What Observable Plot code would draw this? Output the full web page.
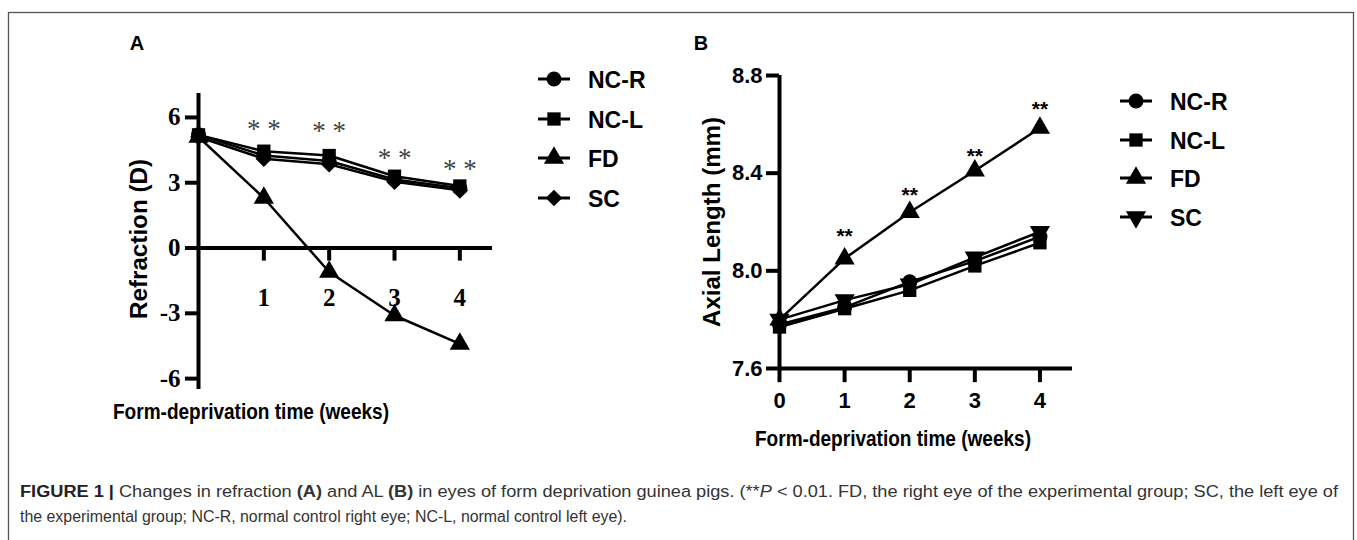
<!DOCTYPE html>
<html><head><meta charset="utf-8">
<script src="https://cdn.jsdelivr.net/npm/d3@7"></script>
<script src="https://cdn.jsdelivr.net/npm/@observablehq/plot@0.6"></script>
<style>
body{margin:0;background:#fff;}
#wrap{position:relative;width:1357px;height:540px;overflow:hidden;background:#fff;}
#wrap > svg{position:absolute;}
</style></head><body><div id="wrap"></div>
<script>
// ---- data ----
const weeks = [0, 1, 2, 3, 4];
const seriesNames = ["NC-R", "NC-L", "FD", "SC"];
// Panel A: refraction (D)
const refrNCR = [5.2, 4.25, 4.0, 3.15, 2.75];
const refrNCL = [5.2, 4.45, 4.25, 3.3, 2.85];
const refrFD  = [5.1, 2.3, -1.1, -3.1, -4.4];
const refrSC  = [5.1, 4.1, 3.85, 3.05, 2.65];
// Panel B: axial length (mm)
const alNCR = [7.78, 7.85, 7.955, 8.04, 8.14];
const alNCL = [7.77, 7.845, 7.92, 8.02, 8.115];
const alFD  = [7.80, 8.05, 8.24, 8.41, 8.585];
const alSC  = [7.80, 7.88, 7.945, 8.055, 8.16];
// significance marks
const starWeeks = [1, 2, 3, 4];
const refrStarY = [5.45, 5.35, 4.1, 3.6];
const alStarY = [8.14, 8.31, 8.47, 8.66];
// ticks
const refrYTicks = [-6, -3, 0, 3, 6];
const refrXTicks = [1, 2, 3, 4];
const alYTicks = [7.6, 8.0, 8.4, 8.8];
const alXTicks = [0, 1, 2, 3, 4];

const rows = (vals, name) => vals.map((v, i) => ({week: weeks[i], value: v, series: name}));
const dataA = [...rows(refrNCR, "NC-R"), ...rows(refrNCL, "NC-L"), ...rows(refrFD, "FD"), ...rows(refrSC, "SC")];
const dataB = [...rows(alNCR, "NC-R"), ...rows(alNCL, "NC-L"), ...rows(alFD, "FD"), ...rows(alSC, "SC")];

const wrap = document.getElementById("wrap");
const SANS = "Liberation Sans, Arial, sans-serif";
const SERIF = "Liberation Serif, Times New Roman, serif";
const R = 7.5;

// ---- background overlay (border, titles, legends, caption) ----
const bg = d3.create("svg").attr("width", 1357).attr("height", 540).style("left", "0px").style("top", "0px");
bg.append("rect").attr("x", 8.5).attr("y", 12.5).attr("width", 1345).attr("height", 700)
  .attr("fill", "none").attr("stroke", "#555").attr("stroke-width", 1.3);
bg.append("text").attr("x", 137).attr("y", 50).attr("text-anchor", "middle")
  .style("font", `bold 20px ${SANS}`).text("A");
bg.append("text").attr("x", 701).attr("y", 50).attr("text-anchor", "middle")
  .style("font", `bold 20px ${SANS}`).text("B");
bg.append("text").attr("transform", "translate(147,239) rotate(-90)").attr("text-anchor", "middle")
  .attr("textLength", 160).attr("lengthAdjust", "spacingAndGlyphs")
  .style("font", `bold 24px ${SANS}`).text("Refraction (D)");
bg.append("text").attr("transform", "translate(720,222) rotate(-90)").attr("text-anchor", "middle")
  .attr("textLength", 210).attr("lengthAdjust", "spacingAndGlyphs")
  .style("font", `bold 23px ${SANS}`).text("Axial Length (mm)");
bg.append("text").attr("x", 113).attr("y", 419).attr("textLength", 276).attr("lengthAdjust", "spacingAndGlyphs")
  .style("font", `bold 22px ${SANS}`).text("Form-deprivation time (weeks)");
bg.append("text").attr("x", 755).attr("y", 446).attr("textLength", 276).attr("lengthAdjust", "spacingAndGlyphs")
  .style("font", `bold 22px ${SANS}`).text("Form-deprivation time (weeks)");

function legend(x0, ys, symbols, rotations) {
  seriesNames.forEach((name, i) => {
    const g = bg.append("g");
    g.append("line").attr("x1", x0).attr("x2", x0 + 32).attr("y1", ys[i]).attr("y2", ys[i])
      .attr("stroke", "#000").attr("stroke-width", 3);
    g.append("path").attr("d", d3.symbol(symbols[i], Math.PI * R * R)())
      .attr("transform", `translate(${x0 + 16},${ys[i]}) rotate(${rotations[i]})`).attr("fill", "#000");
    g.append("text").attr("x", x0 + 50).attr("y", ys[i] + 8.5).style("font", `bold 23px ${SANS}`).text(name);
  });
}
legend(538, [79, 119, 158, 198], [d3.symbolCircle, d3.symbolSquare, d3.symbolTriangle, d3.symbolDiamond2], [0, 0, 0, 0]);
legend(1120, [101, 140, 178, 217], [d3.symbolCircle, d3.symbolSquare, d3.symbolTriangle, d3.symbolTriangle], [0, 0, 0, 180]);

const cap1 = bg.append("text").attr("x", 20).attr("y", 497).attr("textLength", 1318).attr("lengthAdjust", "spacingAndGlyphs")
  .style("font", `16px ${SANS}`).attr("fill", "#333");
cap1.append("tspan").style("font-weight", "bold").attr("fill", "#222").text("FIGURE 1 | ");
cap1.append("tspan").text("Changes in refraction ");
cap1.append("tspan").style("font-weight", "bold").text("(A)");
cap1.append("tspan").text(" and AL ");
cap1.append("tspan").style("font-weight", "bold").text("(B)");
cap1.append("tspan").text(" in eyes of form deprivation guinea pigs. (**");
cap1.append("tspan").style("font-style", "italic").text("P");
cap1.append("tspan").text(" < 0.01. FD, the right eye of the experimental group; SC, the left eye of");
bg.append("text").attr("x", 20).attr("y", 522).attr("textLength", 607).attr("lengthAdjust", "spacingAndGlyphs")
  .style("font", `16px ${SANS}`).attr("fill", "#333")
  .text("the experimental group; NC-R, normal control right eye; NC-L, normal control left eye).");
wrap.appendChild(bg.node());

// ---- Panel A ----
const tickA = 0.2;   // y-axis tick length in x units
const tickAy = 0.6;  // x-axis tick length in y units
const plotA = Plot.plot({
  width: 500, height: 470,
  marginLeft: 198, marginRight: 8, marginTop: 93, marginBottom: 81,
  style: {background: "transparent", overflow: "visible"},
  x: {domain: [0, 4.5], axis: null},
  y: {domain: [-6.5, 7.1], axis: null},
  symbol: {domain: seriesNames, range: ["circle", "square", "triangle", "diamond2"]},
  marks: [
    Plot.ruleY([0], {x1: 0, x2: 4.5, stroke: "#000", strokeWidth: 4}),
    Plot.ruleX([0], {y1: -6.5, y2: 7.1, stroke: "#000", strokeWidth: 4}),
    Plot.ruleY(refrYTicks, {y: d => d, x1: -tickA, x2: 0, stroke: "#000", strokeWidth: 4}),
    Plot.ruleX(refrXTicks, {x: d => d, y1: 0, y2: -tickAy, stroke: "#000", strokeWidth: 4}),
    Plot.text(refrYTicks, {x: 0, y: d => d, text: d => String(d), dx: -18, textAnchor: "end",
      fontFamily: SERIF, fontWeight: "bold", fontSize: 25, fill: "#000"}),
    Plot.text(refrXTicks, {x: d => d, y: 0, text: d => String(d), dy: 50,
      fontFamily: SERIF, fontWeight: "bold", fontSize: 25, fill: "#000"}),
    Plot.line(dataA, {x: "week", y: "value", z: "series", stroke: "#000", strokeWidth: 2.5}),
    Plot.dot(dataA, {x: "week", y: "value", symbol: "series", r: R, fill: "#000", stroke: "none"}),
    Plot.text(starWeeks, {x: d => d, y: (d, i) => refrStarY[i], text: () => "* *",
      fontFamily: SERIF, fontSize: 27, fill: "#444"})
  ]
});
plotA.style.left = "0px"; plotA.style.top = "0px";
wrap.appendChild(plotA);

// ---- Panel B ----
const tickB = 0.2;
const tickBy = 0.058;
const plotB = Plot.plot({
  width: 480, height: 470,
  marginLeft: 179, marginRight: 8, marginTop: 75, marginBottom: 102,
  style: {background: "transparent", overflow: "visible"},
  x: {domain: [0, 4.5], axis: null},
  y: {domain: [7.6, 8.8], axis: null},
  symbol: {domain: seriesNames, range: ["circle", "square", "triangle", "triangle"]},
  marks: [
    Plot.ruleY([7.6], {x1: 0, x2: 4.5, stroke: "#000", strokeWidth: 4}),
    Plot.ruleX([0], {y1: 7.6, y2: 8.8, stroke: "#000", strokeWidth: 4}),
    Plot.ruleY(alYTicks, {y: d => d, x1: -tickB, x2: 0, stroke: "#000", strokeWidth: 4}),
    Plot.ruleX(alXTicks, {x: d => d, y1: 7.6, y2: 7.6 - tickBy, stroke: "#000", strokeWidth: 4}),
    Plot.text(alYTicks, {x: 0, y: d => d, text: d => d.toFixed(1), dx: -17, textAnchor: "end",
      fontFamily: SANS, fontWeight: "bold", fontSize: 22, fill: "#000"}),
    Plot.text(alXTicks, {x: d => d, y: 7.6, text: d => String(d), dy: 32,
      fontFamily: SANS, fontWeight: "bold", fontSize: 22, fill: "#000"}),
    Plot.line(dataB, {x: "week", y: "value", z: "series", stroke: "#000", strokeWidth: 2.5}),
    Plot.dot(dataB, {x: "week", y: "value", symbol: "series", r: R, fill: "#000", stroke: "none",
      rotate: d => d.series === "SC" ? 180 : 0}),
    Plot.text(starWeeks, {x: d => d, y: (d, i) => alStarY[i], text: () => "**",
      fontFamily: SANS, fontWeight: "bold", fontSize: 21, fill: "#000"})
  ]
});
plotB.style.left = "600px"; plotB.style.top = "0px";
wrap.appendChild(plotB);
</script></body></html>
